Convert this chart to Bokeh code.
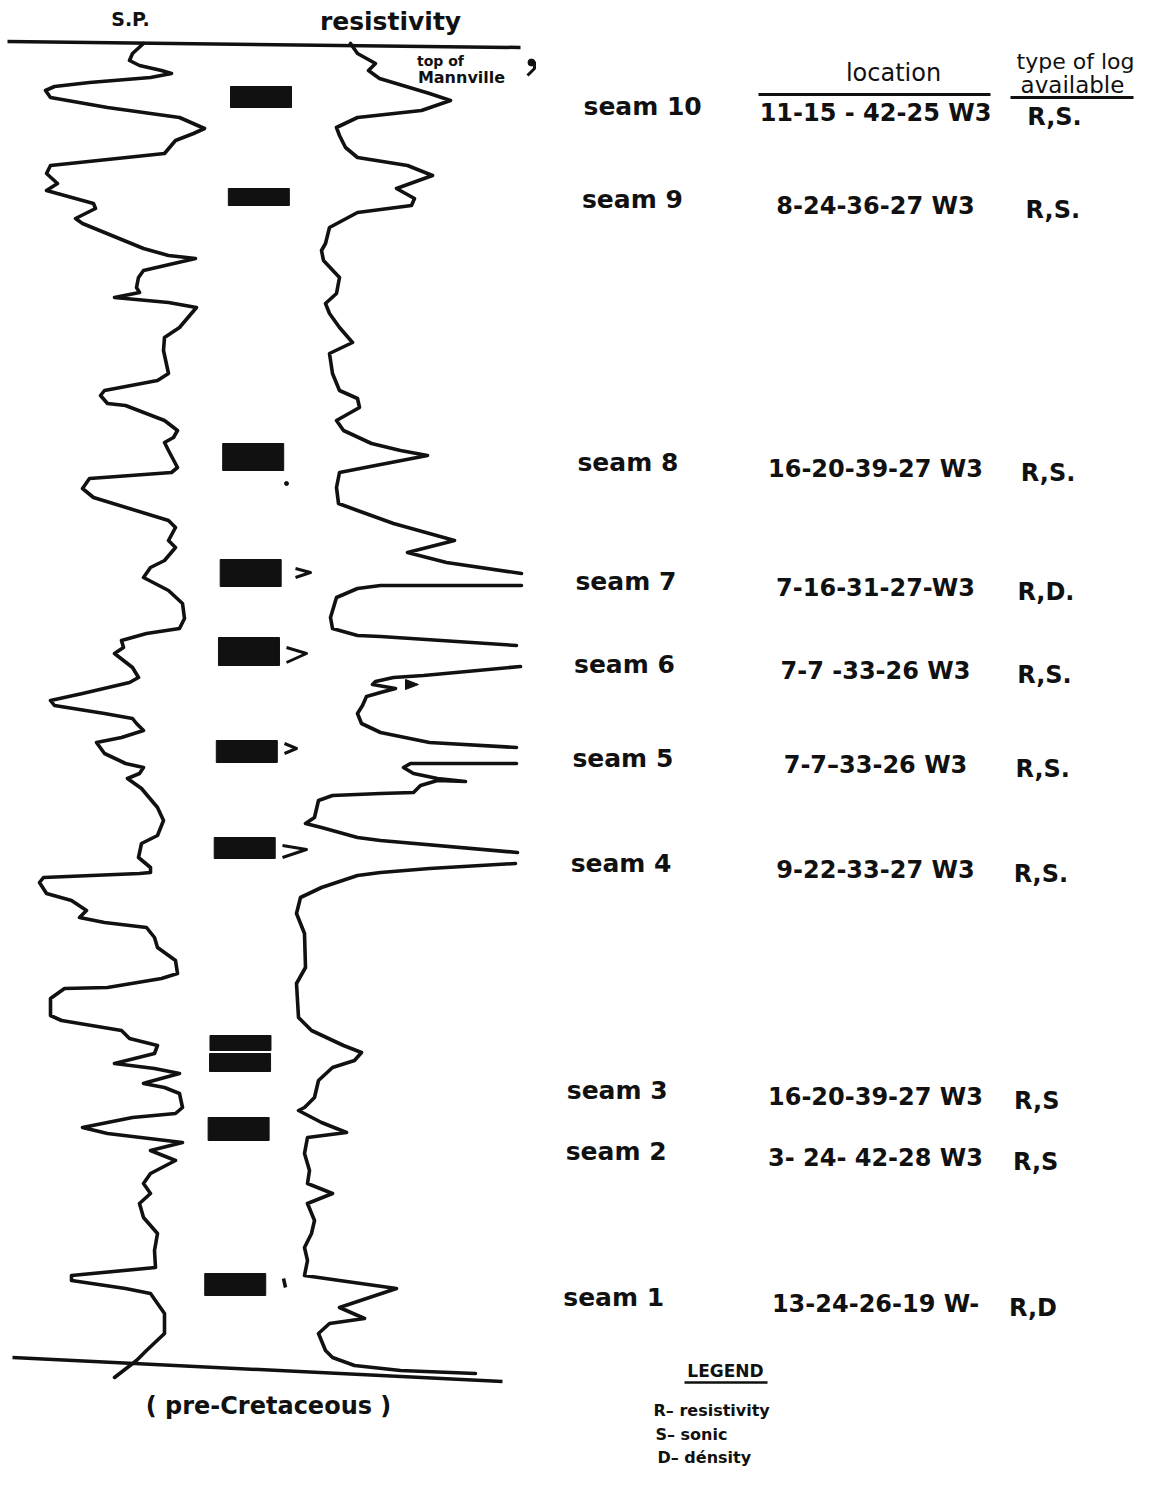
import math
from bokeh.plotting import figure
from bokeh.models import Range1d
from bokeh.core.properties import value
from bokeh.embed import file_html
from bokeh.resources import INLINE

NaN = float("nan")

# S.P. curve: depth (down the page) and deflection
sp_depth = [43, 53, 60, 65, 70, 73, 77, 82, 86, 90, 97, 107, 117, 128, 133, 140,
            153, 165, 173, 183, 190, 203, 208, 218, 223, 248, 255, 258, 270, 277, 287, 292,
            297, 302, 307, 327, 337, 350, 373, 380, 390, 395, 403, 405, 420, 430, 437, 442,
            450, 467, 472, 478, 488, 497, 520, 527, 540, 547, 560, 567, 577, 590, 603, 618,
            628, 633, 640, 647, 653, 667, 677, 682, 693, 700, 705, 713, 718, 723, 730, 737,
            742, 753, 763, 767, 773, 778, 788, 807, 820, 835, 843, 857, 867, 872, 873, 877,
            882, 893, 900, 910, 917, 922, 927, 937, 947, 960, 973, 978, 987, 988, 998, 1015,
            1020, 1030, 1038, 1045, 1053, 1063, 1068, 1073, 1082, 1083, 1087, 1093, 1107, 1113,
            1117, 1127, 1133, 1142, 1150, 1160, 1173, 1183, 1193, 1203, 1217, 1233, 1250, 1267,
            1275, 1280, 1288, 1293, 1313, 1333, 1350, 1360, 1377]
sp_value = [143, 132, 129, 139, 161, 171, 150, 89, 54, 45, 50, 107, 179, 204, 193, 175,
            164, 50, 46, 57, 46, 93, 95, 75, 82, 143, 168, 195, 143, 138, 136, 139,
            114, 168, 196, 179, 164, 163, 168, 157, 104, 100, 107, 125, 164, 177, 173, 164,
            168, 177, 171, 89, 82, 93, 168, 175, 168, 175, 164, 150, 143, 168, 182, 184,
            179, 146, 121, 123, 114, 132, 138, 129, 82, 50, 54, 104, 132, 136, 143, 121,
            96, 104, 125, 143, 139, 127, 141, 157, 163, 157, 141, 138, 150, 150, 139, 43,
            39, 46, 71, 86, 79, 104, 146, 154, 157, 175, 177, 161, 107, 64, 50, 50,
            61, 121, 129, 157, 154, 114, 154, 179, 146, 143, 164, 179, 182, 175,
            132, 82, 107, 182, 150, 175, 150, 143, 150, 139, 143, 157, 154, 155,
            71, 71, 125, 150, 164, 164, 146, 136, 114]

# Resistivity curve (NaN = trace runs off scale)
res_depth = [43, 53, 63, 70, 78, 93, 100, 110, 117, 127, 135, 147, 157, 165, 175, 188, 198, 205,
             212, 227, 243, 250, 260, 277, 293, 303, 313, 327, 342, 353, 373, 390, 398, 407,
             420, 430, 443, 450, 455, 465, 472, 487, 503, 510, 523, 540, 552, 562, 573, NaN,
             585, 585, 585, 588, 597, 617, 628, 635, 636, 645, NaN,
             666, 675, 677, 681, 684, 688, 692, 696, 705, 713, 723, 732, 742, 747, NaN,
             763, 763, 767, 773, 778, 781, 780, 785, 792, 793, 795, 800, 817, 823, 827, 837,
             840, 852, NaN,
             863, 868, 872, 875, 887, 897, 913, 933, 967, 983, 1017, 1030, 1045, 1052, 1060,
             1067, 1080, 1097, 1107, 1110, 1122, 1132, 1137, 1153, 1170, 1183, 1193, 1203,
             1220, 1233, 1247, 1260, 1275, 1280, 1288, 1307, 1318, 1323, 1333, 1350, 1357,
             1365, 1370, 1373]
res_value = [350, 357, 375, 368, 379, 429, 450, 421, 357, 336, 339, 345, 357, 407, 432, 396, 414, 411,
             357, 329, 325, 321, 323, 339, 336, 325, 329, 339, 352, 329, 332, 339, 357, 359,
             336, 343, 371, 400, 427, 375, 339, 336, 338, 357, 393, 454, 407, 446, 521, NaN,
             521, 450, 380, 357, 336, 330, 332, 357, 380, 516, NaN,
             520, 423, 393, 375, 372, 395, 380, 366, 362, 357, 361, 380, 429, 516, NaN,
             516, 410, 403, 413, 437, 465, 437, 420, 413, 380, 332, 318, 314, 305, 321, 357,
             380, 517, NaN,
             515, 429, 380, 357, 321, 300, 296, 304, 305, 296, 298, 311, 343, 361, 354,
             332, 318, 314, 304, 298, 321, 346, 307, 304, 309, 307, 332, 307,
             314, 311, 304, 307, 304, 339, 396, 339, 364, 329, 318, 325, 332,
             354, 400, 475]

# coal seams (blocks) : top and bottom depth
block_top = [86, 188, 443, 559, 637, 740, 837, 1035, 1053, 1117, 1273]
block_bottom = [107, 205, 470, 586, 665, 762, 858, 1050, 1071, 1140, 1295]

# table of seams
seam_names = ["seam 10", "seam  9", "seam 8", "seam 7", "seam  6",
              "seam 5", "seam 4", "seam  3", "seam 2", "seam 1"]
seam_locations = ["11-15 - 42-25 W3", "8-24-36-27 W3", "16-20-39-27 W3", "7-16-31-27-W3",
                  "7-7 -33-26 W3", "7-7–33-26 W3", "9-22-33-27 W3", "16-20-39-27 W3",
                  "3- 24- 42-28 W3", "13-24-26-19 W-"]
seam_logs = ["R,S.", "R,S.", "R,S.", "R,D.", "R,S.", "R,S.", "R,S.", "R,S", "R,S", "R,D"]
seam_row_depth = [112, 205, 468, 587, 670, 764, 869, 1096, 1157, 1303]

legend_items = ["R– resistivity", "S– sonic", "D– dénsity"]

# ---------------- figure ----------------
FONT = value("DejaVu Sans")
p = figure(width=1135, height=1469, x_range=Range1d(0, 1135), y_range=Range1d(1469, 0),
           output_backend="svg", toolbar_location=None, min_border=0,
           x_axis_location=None, y_axis_location=None)
p.grid.visible = False
p.outline_line_color = None
p.background_fill_color = "white"

INK = "#111111"

# frame lines (top of Mannville / pre-Cretaceous)
p.line(x=[7, 520], y=[41, 47], line_color=INK, line_width=3.5)
p.line(x=[12, 502], y=[1357, 1381], line_color=INK, line_width=3.5)

# log curves
p.line(x=sp_value, y=sp_depth, line_color=INK, line_width=3.6, line_join="round", line_cap="round")
p.line(x=res_value, y=res_depth, line_color=INK, line_width=3.6, line_join="round", line_cap="round")

# coal seam blocks (scan drifts slightly left with depth)
def block_left(d):
    return 230 - 0.0217 * (d - 97)

mid = [(t + b) / 2 for t, b in zip(block_top, block_bottom)]
p.quad(left=[block_left(m) for m in mid], right=[block_left(m) + 61 for m in mid],
       top=block_top, bottom=block_bottom, fill_color=INK, line_color=INK, line_width=1)

# small chevrons next to seams 7, 6, 5, 4
p.multi_line(xs=[[295, 310, 295], [286, 306, 286], [284, 296, 284], [282, 306, 282]],
             ys=[[568, 572, 577], [647, 653, 662], [743, 748, 753], [845, 849, 857]],
             line_color=INK, line_width=3, line_join="round")
p.patch(x=[405, 418, 405], y=[679, 684, 689], fill_color=INK, line_color=INK)
p.line(x=[283, 285], y=[1278, 1287], line_color=INK, line_width=3.5)
p.scatter(x=[286], y=[483], size=4, color=INK)

# headers
p.text(x=[130], y=[18], text=["S.P."], text_font=FONT, text_font_size="19px",
       text_font_style="bold", text_align="center", text_baseline="middle", text_color=INK)
p.text(x=[390], y=[21], text=["resistivity"], text_font=FONT, text_font_size="25px",
       text_font_style="bold", text_align="center", text_baseline="middle", text_color=INK)
p.text(x=[440], y=[60], text=["top of"], text_font=FONT, text_font_size="14px",
       text_font_style="bold", text_align="center", text_baseline="middle", text_color=INK)
p.text(x=[461], y=[77], text=["Mannville"], text_font=FONT, text_font_size="16px",
       text_font_style="bold", text_align="center", text_baseline="middle", text_color=INK)
p.scatter(x=[531], y=[62], size=7, color=INK)
p.line(x=[534, 534, 527], y=[61, 68, 75], line_color=INK, line_width=3)

p.text(x=[893], y=[72], text=["location"], text_font=FONT, text_font_size="24px",
       text_align="center", text_baseline="middle", text_color=INK)
p.line(x=[758, 990], y=[94, 94], line_color=INK, line_width=3)
p.text(x=[1075], y=[61], text=["type of log"], text_font=FONT, text_font_size="22px",
       text_align="center", text_baseline="middle", text_color=INK)
p.text(x=[1072], y=[84], text=["available"], text_font=FONT, text_font_size="23px",
       text_align="center", text_baseline="middle", text_color=INK)
p.line(x=[1010, 1133], y=[97, 97], line_color=INK, line_width=3)

# seam table
lab_x = [583 - 0.017 * (d - 112) for d in seam_row_depth]
log_x = [1054 - 0.018 * (d - 112) for d in seam_row_depth]
p.text(x=lab_x, y=[d - 6 for d in seam_row_depth], text=seam_names, text_font=FONT,
       text_font_size="25px", text_font_style="bold", text_align="left",
       text_baseline="middle", text_color=INK)
p.text(x=[875] * len(seam_row_depth), y=seam_row_depth, text=seam_locations, text_font=FONT,
       text_font_size="24px", text_font_style="bold", text_align="center",
       text_baseline="middle", text_color=INK)
p.text(x=log_x, y=[d + 4 for d in seam_row_depth], text=seam_logs, text_font=FONT,
       text_font_size="24px", text_font_style="bold", text_align="center",
       text_baseline="middle", text_color=INK)

# base label
p.text(x=[268], y=[1405], text=["( pre-Cretaceous )"], text_font=FONT, text_font_size="24px",
       text_font_style="bold", text_align="center", text_baseline="middle", text_color=INK)

# legend
p.text(x=[725], y=[1370], text=["LEGEND"], text_font=FONT, text_font_size="17px",
       text_font_style="bold", text_align="center", text_baseline="middle", text_color=INK)
p.line(x=[684, 767], y=[1382, 1382], line_color=INK, line_width=2.5)
p.text(x=[653, 655, 657], y=[1410, 1434, 1457], text=legend_items, text_font=FONT,
       text_font_size="16px", text_font_style="bold", text_align="left",
       text_baseline="middle", text_color=INK)

open("out.html", "w").write(file_html(p, INLINE))
